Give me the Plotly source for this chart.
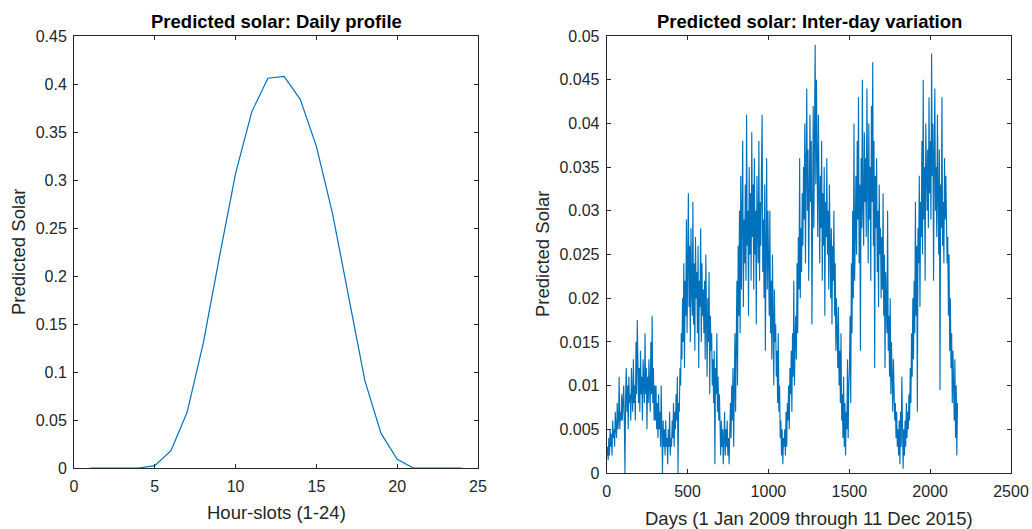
import plotly.graph_objects as go

# ---------------- data ----------------
hour_slots = list(range(1, 25))
daily_profile = [0.0, 0.0, 0.0, 0.0, 0.0025, 0.018, 0.058, 0.130, 0.220, 0.307,
                 0.371, 0.406, 0.408, 0.384, 0.335, 0.265, 0.178, 0.091, 0.036, 0.009,
                 0.0, 0.0, 0.0, 0.0]

# Inter-day values, one reading every 4 days, 100 days per row
interday = [
    0.002, 0.003, 0.0015, 0.004, 0.002, 0.005, 0.003, 0.0045, 0.002, 0.006,
    0.004, 0.005, 0.003, 0.007, 0.005, 0.004, 0.008, 0.005, 0.006, 0.011,
    0.005, 0.007, 0.006, 0.009, 0.006,
    0.008, 0.010, 0.006, 0.0, 0.009, 0.012, 0.007, 0.010, 0.005, 0.011,
    0.008, 0.009, 0.006, 0.012, 0.009, 0.007, 0.013, 0.008, 0.010, 0.006,
    0.015, 0.009, 0.0175, 0.010, 0.008,
    0.012, 0.007, 0.014, 0.009, 0.011, 0.006, 0.013, 0.010, 0.008, 0.016,
    0.009, 0.012, 0.005, 0.011, 0.008, 0.013, 0.010, 0.007, 0.015, 0.009,
    0.018, 0.008, 0.012, 0.006, 0.010,
    0.006, 0.010, 0.005, 0.008, 0.004, 0.009, 0.005, 0.007, 0.003, 0.010,
    0.004, 0.0, 0.006, 0.003, 0.005, 0.002, 0.006, 0.003, 0.004, 0.001,
    0.005, 0.003, 0.007, 0.002, 0.004,
    0.003, 0.006, 0.004, 0.008, 0.003, 0.007, 0.005, 0.009, 0.006, 0.011,
    0.0, 0.008, 0.007, 0.012, 0.010, 0.016, 0.013, 0.020, 0.015, 0.024,
    0.012, 0.022, 0.018, 0.029, 0.016,
    0.024, 0.032, 0.019, 0.026, 0.015, 0.028, 0.021, 0.018, 0.031, 0.017,
    0.024, 0.014, 0.027, 0.020, 0.023, 0.016, 0.026, 0.012, 0.022, 0.019,
    0.028, 0.015, 0.024, 0.018, 0.021,
    0.016, 0.022, 0.013, 0.025, 0.017, 0.011, 0.020, 0.015, 0.023, 0.009,
    0.018, 0.014, 0.016, 0.010, 0.013, 0.008, 0.014, 0.001, 0.012, 0.009,
    0.016, 0.007, 0.011, 0.006, 0.009,
    0.004, 0.002, 0.006, 0.003, 0.005, 0.001, 0.004, 0.007, 0.002, 0.005,
    0.003, 0.006, 0.002, 0.004, 0.001, 0.005, 0.008, 0.004, 0.010, 0.006,
    0.012, 0.003, 0.009, 0.016, 0.007,
    0.014, 0.022, 0.010, 0.026, 0.018, 0.030, 0.016, 0.034, 0.021, 0.027,
    0.038, 0.019, 0.029, 0.024, 0.033, 0.022, 0.041, 0.026, 0.030, 0.018,
    0.035, 0.025, 0.032, 0.022, 0.039,
    0.027, 0.033, 0.021, 0.036, 0.025, 0.030, 0.017, 0.034, 0.028, 0.024,
    0.038, 0.022, 0.031, 0.026, 0.035, 0.041, 0.023, 0.029, 0.020, 0.033,
    0.014, 0.027, 0.036, 0.021, 0.030,
    0.024, 0.018, 0.030, 0.016, 0.022, 0.013, 0.025, 0.019, 0.010, 0.021,
    0.015, 0.017, 0.011, 0.014, 0.008, 0.016, 0.007, 0.010, 0.004, 0.006,
    0.002, 0.005, 0.001, 0.004, 0.003,
    0.005, 0.002, 0.007, 0.003, 0.008, 0.006, 0.010, 0.005, 0.012, 0.009,
    0.014, 0.007, 0.016, 0.011, 0.022, 0.010, 0.015, 0.018, 0.013, 0.024,
    0.016, 0.027, 0.021, 0.036, 0.020,
    0.028, 0.023, 0.032, 0.026, 0.035, 0.029, 0.040, 0.024, 0.034, 0.044,
    0.030, 0.037, 0.022, 0.036, 0.041, 0.031, 0.038, 0.017, 0.035, 0.042,
    0.028, 0.039, 0.049, 0.033, 0.045,
    0.036, 0.027, 0.041, 0.030, 0.024, 0.034, 0.028, 0.038, 0.022, 0.032,
    0.026, 0.035, 0.018, 0.031, 0.027, 0.036, 0.025, 0.030, 0.021, 0.033,
    0.024, 0.020, 0.028, 0.017, 0.026,
    0.022, 0.030, 0.018, 0.024, 0.014, 0.020, 0.016, 0.012, 0.019, 0.010,
    0.014, 0.008, 0.016, 0.006, 0.009, 0.004, 0.011, 0.003, 0.008, 0.002,
    0.007, 0.005, 0.013, 0.004, 0.010,
    0.012, 0.018, 0.008, 0.024, 0.016, 0.030, 0.020, 0.040, 0.022, 0.027,
    0.034, 0.025, 0.038, 0.029, 0.043, 0.024, 0.033, 0.014, 0.036, 0.028,
    0.045, 0.030, 0.026, 0.039, 0.031,
    0.036, 0.027, 0.044, 0.032, 0.024, 0.040, 0.029, 0.035, 0.022, 0.042,
    0.031, 0.047, 0.026, 0.038, 0.012, 0.034, 0.028, 0.036, 0.023, 0.030,
    0.019, 0.033, 0.025, 0.028, 0.020,
    0.027, 0.021, 0.032, 0.018, 0.025, 0.012, 0.023, 0.019, 0.016, 0.030,
    0.014, 0.018, 0.011, 0.020, 0.009, 0.015, 0.012, 0.007, 0.013, 0.010,
    0.006, 0.008, 0.004, 0.007, 0.003,
    0.005, 0.002, 0.006, 0.001, 0.007, 0.003, 0.011, 0.004, 0.0005, 0.005,
    0.002, 0.006, 0.003, 0.008, 0.004, 0.007, 0.005, 0.009, 0.006, 0.012,
    0.008, 0.016, 0.011, 0.020, 0.013,
    0.022, 0.016, 0.031, 0.018, 0.026, 0.007, 0.028, 0.024, 0.034, 0.019,
    0.031, 0.027, 0.038, 0.025, 0.045, 0.029, 0.035, 0.022, 0.040, 0.033,
    0.030, 0.037, 0.028, 0.043, 0.032,
    0.038, 0.029, 0.048, 0.034, 0.040, 0.022, 0.036, 0.044, 0.030, 0.035,
    0.027, 0.041, 0.032, 0.025, 0.037, 0.0095, 0.033, 0.028, 0.043, 0.026,
    0.031, 0.024, 0.036, 0.029, 0.034,
    0.030, 0.024, 0.027, 0.018, 0.025, 0.014, 0.020, 0.012, 0.016, 0.008,
    0.014, 0.009, 0.006, 0.013, 0.004, 0.010, 0.002, 0.008,
]
days = list(range(1, 4 * len(interday) + 1, 4))

left_xticks = [0, 5, 10, 15, 20, 25]
left_yticks = [0, 0.05, 0.1, 0.15, 0.2, 0.25, 0.3, 0.35, 0.4, 0.45]
left_yticktext = ["0", "0.05", "0.1", "0.15", "0.2", "0.25", "0.3", "0.35", "0.4", "0.45"]
right_xticks = [0, 500, 1000, 1500, 2000, 2500]
right_yticks = [0, 0.005, 0.01, 0.015, 0.02, 0.025, 0.03, 0.035, 0.04, 0.045, 0.05]
right_yticktext = ["0", "0.005", "0.01", "0.015", "0.02", "0.025", "0.03", "0.035",
                   "0.04", "0.045", "0.05"]

# ---------------- layout geometry ----------------
W, H = 1032, 529
def fx(px):
    return px / W
def fy(py):
    return 1 - py / H

LINE = "#0072BD"
AX = "#262626"
FONT = "Liberation Sans, Arial, Helvetica, sans-serif"

fig = go.Figure()
fig.add_trace(go.Scatter(x=hour_slots, y=daily_profile, mode="lines",
                         line=dict(color=LINE, width=1.2), xaxis="x", yaxis="y",
                         showlegend=False, hoverinfo="skip"))
fig.add_trace(go.Scatter(x=days, y=interday, mode="lines",
                         line=dict(color=LINE, width=1.15), xaxis="x2", yaxis="y2",
                         showlegend=False, hoverinfo="skip"))

axis_common = dict(showline=True, linecolor=AX, linewidth=1, mirror="allticks",
                   ticks="inside", ticklen=4, tickcolor=AX, tickwidth=1,
                   showgrid=False, zeroline=False, automargin=False,
                   tickfont=dict(family=FONT, size=16, color=AX))

fig.update_layout(
    template="none",
    width=W, height=H, autosize=False,
    margin=dict(l=0, r=0, t=0, b=0, pad=0, autoexpand=False),
    paper_bgcolor="white", plot_bgcolor="white",
    xaxis=dict(domain=[fx(74), fx(478)], range=[0, 25], tickvals=left_xticks,
               anchor="y", ticklabelstandoff=4, **axis_common),
    yaxis=dict(domain=[fy(468), fy(36)], range=[0, 0.45], tickvals=left_yticks,
               ticktext=left_yticktext, anchor="x", ticklabelstandoff=3, **axis_common),
    xaxis2=dict(domain=[fx(606.7), fx(1011)], range=[0, 2500], tickvals=right_xticks,
                anchor="y2", ticklabelstandoff=4, **axis_common),
    yaxis2=dict(domain=[fy(473), fy(36)], range=[0, 0.05], tickvals=right_yticks,
                ticktext=right_yticktext, anchor="x2", ticklabelstandoff=3, **axis_common),
)

annos = [
    dict(text="<b>Predicted solar: Daily profile</b>", x=fx(276), y=fy(21), size=18.5, angle=0, color="#000000"),
    dict(text="<b>Predicted solar: Inter-day variation</b>", x=fx(809), y=fy(21), size=18.5, angle=0, color="#000000"),
    dict(text="Hour-slots (1-24)", x=fx(276), y=fy(512), size=18.5, angle=0, color=AX),
    dict(text="Days (1 Jan 2009 through 11 Dec 2015)", x=fx(809), y=fy(518), size=18.5, angle=0, color=AX),
    dict(text="Predicted Solar", x=fx(18), y=fy(252), size=18.5, angle=-90, color=AX),
    dict(text="Predicted Solar", x=fx(543), y=fy(254), size=18.5, angle=-90, color=AX),
]
for a in annos:
    fig.add_annotation(text=a["text"], x=a["x"], y=a["y"], xref="paper", yref="paper",
                       xanchor="center", yanchor="middle", showarrow=False,
                       textangle=a["angle"],
                       font=dict(family=FONT, size=a["size"], color=a["color"]))

fig.write_html("out.html",
               post_script=("var s=document.createElement('style');"
                            "s.innerHTML='html,body{margin:0;padding:0;overflow:hidden}';"
                            "document.head.appendChild(s);"))
